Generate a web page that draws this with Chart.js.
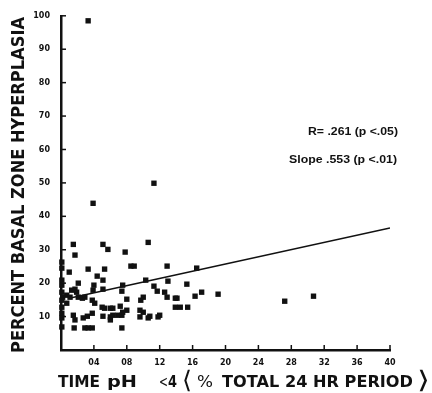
<!DOCTYPE html>
<html>
<head>
<meta charset="utf-8">
<script src="https://cdn.jsdelivr.net/npm/chart.js@4.4.1/dist/chart.umd.min.js"></script>
<style>
    body { margin: 0; background: #fff; }
    canvas { display: block; }
</style>
</head>
<body>
<canvas id="chart1" width="432" height="393"></canvas>
<script>
// values
const timeAcid = [3.3, 11.3, 3.9, 1.5, 1.7, 5.1, 5.7, 7.8, 10.6, 8.5, 8.9, 12.9, 16.5,
    1.0, 3.3, 5.3, 4.4, 5.1, 0.1, 0.1, 0.1, 2.1, 4.0, 7.5, 10.3, 13.0, 15.3, 17.1,
    16.3, 19.1, 27.2, 30.7, 11.3, 11.7, 12.6, 12.9, 13.9, 14.1, 10.0, 9.7, 8.0, 7.4,
    5.1, 3.9, 1.3, 1.7, 1.9, 0.7, 0.2, 1.1, 2.1, 2.6, 2.9, 3.8, 4.1, 0.7, 5.0, 5.3,
    6.0, 6.3, 7.2, 8.0, 9.6, 10.0, 10.8, 12.0, 13.9, 14.5, 15.4, 0.1, 0.1, 0.1, 0.1,
    1.5, 1.7, 3.2, 2.7, 3.8, 5.1, 6.0, 6.3, 6.9, 7.4, 7.5, 9.6, 10.6, 11.8, 6.0,
    1.6, 2.9, 3.3, 3.8, 7.4, 0.1, 0.1, 0.1];
const hyperplasia = [98.5, 49.9, 43.9, 31.6, 28.4, 31.6, 30.1, 29.3, 32.2, 25.1, 25.1, 25.1, 24.5,
    23.3, 24.2, 24.2, 22.1, 20.9, 24.5, 20.9, 19.4, 20.0, 19.4, 19.4, 20.9, 20.6, 19.7, 17.3,
    16.1, 16.7, 14.6, 16.1, 19.1, 17.6, 17.3, 15.8, 15.5, 15.5, 15.8, 14.9, 15.2, 17.6,
    18.2, 17.9, 17.9, 18.2, 17.3, 16.4, 15.8, 15.8, 15.8, 15.5, 15.8, 14.9, 14.0, 14.0, 12.8, 12.5,
    12.5, 12.5, 13.1, 11.9, 11.9, 11.3, 10.1, 10.4, 12.8, 12.8, 12.8, 12.8, 11.0, 9.6, 6.9,
    10.4, 9.0, 10.1, 9.6, 11.0, 10.1, 9.9, 10.4, 10.4, 10.4, 11.3, 9.9, 9.6, 9.9, 9.0,
    6.6, 6.6, 6.6, 6.6, 6.6, 26.3, 14.9, 17.3];

// regression line end points
const fitX = [1, 40];
const fitY = [15.5, 36.5];

const xTickValues = [4, 8, 12, 16, 20, 24, 28, 32, 36, 40];
const yTickValues = [10, 20, 30, 40, 50, 60, 70, 80, 90, 100];

const statLines = ['R= .261 (p <.05)', 'Slope .553 (p <.01)'];
const yTitle = 'PERCENT BASAL ZONE HYPERPLASIA';

// draws text squeezed/stretched to a given width
function drawFit(ctx, text, x, y, width, font) {
    ctx.save();
    ctx.font = font;
    let w = ctx.measureText(text).width;
    ctx.translate(x, y);
    ctx.scale(width / w, 1);
    ctx.textAlign = 'left';
    ctx.textBaseline = 'middle';
    ctx.fillText(text, 0, 0);
    ctx.restore();
}

const extras = {
    id: 'extras',
    afterDraw(chart) {
        const ctx = chart.ctx;
        const xs = chart.scales.x;
        const ys = chart.scales.y;
        const area = chart.chartArea;

        // small inward ticks
        ctx.save();
        ctx.strokeStyle = '#111';
        ctx.lineWidth = 1.5;
        xTickValues.forEach(v => {
            let px = xs.getPixelForValue(v);
            ctx.beginPath();
            ctx.moveTo(px, area.bottom);
            ctx.lineTo(px, area.bottom - 5);
            ctx.stroke();
        });
        yTickValues.forEach(v => {
            let py = ys.getPixelForValue(v);
            ctx.beginPath();
            ctx.moveTo(area.left, py);
            ctx.lineTo(area.left + 5, py);
            ctx.stroke();
        });
        ctx.restore();

        ctx.fillStyle = '#111';

        // stats text
        drawFit(ctx, statLines[0], 308, 132, 90, 'bold 10px "Liberation Sans"');
        drawFit(ctx, statLines[1], 289, 160, 108, 'bold 10px "Liberation Sans"');

        // y title, rotated
        ctx.save();
        ctx.translate(20, 353);
        ctx.rotate(-Math.PI / 2);
        drawFit(ctx, yTitle, 0, 0, 336, 'bold 17px "DejaVu Sans"');
        ctx.restore();

        // x title in pieces
        const bold = 'bold 15px "DejaVu Sans"';
        drawFit(ctx, 'TIME', 58, 383, 42, bold);
        drawFit(ctx, 'pH', 107, 383, 30, bold);
        drawFit(ctx, '<', 159, 383, 9, '16px "DejaVu Sans"');
        drawFit(ctx, '4', 168, 383, 9, bold);
        drawFit(ctx, '\u27E8', 182, 382, 10, '24px "DejaVu Sans"');
        drawFit(ctx, '%', 197, 383, 16, '15px "DejaVu Sans"');
        drawFit(ctx, 'TOTAL 24 HR PERIOD', 222, 383, 191, bold);
        drawFit(ctx, '\u27E9', 417, 382, 13, '24px "DejaVu Sans"');
    }
};

const ctx1 = document.getElementById('chart1').getContext('2d');

new Chart(ctx1, {
    type: 'scatter',
    data: {
        datasets: [{
            label: 'Patients',
            data: timeAcid.map((x, i) => ({ x: x, y: hyperplasia[i] })),
            pointStyle: 'rect',
            pointRadius: 3.8,
            backgroundColor: '#111',
            borderColor: '#111',
            borderWidth: 0,
            clip: false
        }, {
            type: 'line',
            label: 'Fit',
            data: fitX.map((x, i) => ({ x: x, y: fitY[i] })),
            borderColor: '#111',
            borderWidth: 1.6,
            pointRadius: 0,
            fill: false
        }]
    },
    options: {
        responsive: false,
        animation: false,
        layout: { padding: { top: 15, right: 42, left: 0, bottom: 0 } },
        plugins: {
            legend: { display: false },
            tooltip: { enabled: false }
        },
        scales: {
            x: {
                type: 'linear',
                min: 0,
                max: 40,
                afterFit(scale) { scale.height = 43; },
                grid: { display: false, drawTicks: false },
                border: { display: true, color: '#111', width: 2.5 },
                ticks: {
                    stepSize: 4,
                    padding: 8,
                    color: '#111',
                    font: { family: 'DejaVu Sans', size: 8, weight: 'bold' },
                    callback: v => v === 0 ? '' : (v < 10 ? '0' + v : '' + v)
                }
            },
            y: {
                min: 0,
                max: 100,
                afterFit(scale) { scale.width = 61; },
                grid: { display: false, drawTicks: false },
                border: { display: true, color: '#111', width: 2.5 },
                ticks: {
                    stepSize: 10,
                    padding: 11,
                    color: '#111',
                    font: { family: 'DejaVu Sans', size: 8, weight: 'bold' },
                    callback: v => v === 0 ? '' : '' + v
                }
            }
        }
    },
    plugins: [extras]
});
</script>
</body>
</html>
